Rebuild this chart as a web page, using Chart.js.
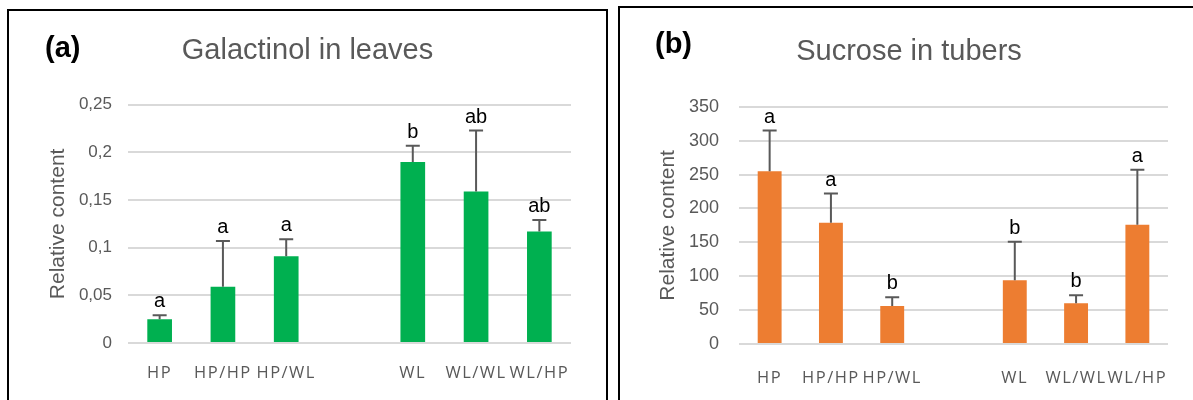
<!DOCTYPE html>
<html>
<head>
<meta charset="utf-8">
<script src="https://cdn.jsdelivr.net/npm/chart.js@4.4.1/dist/chart.umd.min.js"></script>
<style>
  html, body { margin: 0; padding: 0; background: #fff; overflow: hidden; }
  body { width: 1193px; height: 400px; position: relative; }
  .panel { position: absolute; box-sizing: border-box; border: 2px solid #000; height: 430px; }
  .panel canvas { position: absolute; left: 0; top: 0; }
  .tag { position: absolute; font: bold 29px "Liberation Sans", Arial, sans-serif; line-height: 1; color: #000; }
  #panelA { left: 7px; top: 9px; width: 601px; }
  #panelB { left: 618px; top: 6px; width: 584px; }
  #tagA { left: 36px; top: 22px; }
  #tagB { left: 35px; top: 21px; }
</style>
</head>
<body>
<div class="panel" id="panelA">
  <canvas id="galactinol" width="597" height="389"></canvas>
  <div class="tag" id="tagA">(a)</div>
</div>
<div class="panel" id="panelB">
  <canvas id="sucrose" width="578" height="392"></canvas>
  <div class="tag" id="tagB">(b)</div>
</div>
<script>
const TEXT = "#595959";
const GRID = "#d9d9d9";

// empty slot between the two graft groups
const CATEGORIES = ["HP", "HP/HP", "HP/WL", "", "WL", "WL/WL", "WL/HP"];

const GALACTINOL = [0.025, 0.059, 0.091, null, 0.19, 0.159, 0.117];
const GALACTINOL_SD = [0.004, 0.048, 0.018, null, 0.017, 0.064, 0.012];
const GALACTINOL_GROUPS = ["a", "a", "a", "", "b", "ab", "ab"];
const GALACTINOL_TICKS = { max: 0.25, step: 0.05 };

const SUCROSE = [255, 179, 56, null, 94, 60, 176];
const SUCROSE_SD = [60, 43, 13, null, 57, 12, 81];
const SUCROSE_GROUPS = ["a", "a", "b", "", "b", "b", "a"];
const SUCROSE_TICKS = { max: 350, step: 50 };

const SANS = '"Liberation Sans", Arial, sans-serif';

// upper error bar + significance letter over each bar
function errorBars(sd, groups) {
  return {
    id: "errorBars",
    afterDatasetsDraw(chart) {
      const { ctx } = chart;
      const y = chart.scales.y;
      const values = chart.data.datasets[0].data;
      const meta = chart.getDatasetMeta(0);
      ctx.save();
      ctx.strokeStyle = TEXT;
      ctx.lineWidth = 2;
      ctx.fillStyle = "#000";
      ctx.font = "20px " + SANS;
      ctx.textAlign = "center";
      ctx.textBaseline = "alphabetic";
      meta.data.forEach((bar, i) => {
        if (values[i] == null) return;
        const top = y.getPixelForValue(values[i]);
        const end = y.getPixelForValue(values[i] + sd[i]);
        ctx.beginPath();
        ctx.moveTo(bar.x, top);
        ctx.lineTo(bar.x, end);
        ctx.moveTo(bar.x - 7, end);
        ctx.lineTo(bar.x + 7, end);
        ctx.stroke();
        ctx.fillText(groups[i], bar.x, end - 8);
      });
      ctx.restore();
      // category labels come on the next layer, spaced out a bit
      ctx.letterSpacing = "1.5px";
    },
    afterDraw(chart) {
      chart.ctx.letterSpacing = "0px";
    },
  };
}

function drawPanel(id, p) {
  const canvas = document.getElementById(id);
  return new Chart(canvas, {
    type: "bar",
    data: {
      labels: CATEGORIES,
      datasets: [{
        data: p.values,
        backgroundColor: p.color,
        borderWidth: 0,
        categoryPercentage: 1,
        barPercentage: 0.39,
      }],
    },
    options: {
      responsive: false,
      animation: false,
      events: [],
      layout: { padding: 0 },
      plugins: {
        legend: { display: false },
        tooltip: { enabled: false },
        title: {
          display: true,
          text: p.title,
          color: TEXT,
          font: { family: SANS, size: 29, weight: "normal" },
          padding: p.titlePad,
        },
      },
      scales: {
        x: {
          grid: { display: false, drawTicks: false },
          border: { display: false },
          ticks: {
            z: 1,
            color: TEXT,
            font: { family: '"Open Sans", sans-serif', size: 16.5 },
            padding: p.xPad,
            maxRotation: 0,
            autoSkip: false,
          },
          afterFit: (s) => { s.height = p.xHeight; },
        },
        y: {
          min: 0,
          max: p.ticks.max,
          grid: { color: GRID, lineWidth: 2, drawTicks: false },
          border: { display: false },
          ticks: {
            stepSize: p.ticks.step,
            color: TEXT,
            font: { family: SANS, size: p.tickSize },
            padding: p.yPad,
            callback: (v) => String(+v.toFixed(2)).replace(".", ","),
          },
          title: {
            display: true,
            text: "Relative content",
            color: TEXT,
            font: { family: SANS, size: 21 },
            padding: { top: p.yTitlePad, bottom: 0 },
          },
          afterFit: (s) => { s.width = 119; },
        },
        // blank margin on the right so the title stays centred on the canvas
        gap: {
          type: "linear",
          position: "right",
          grid: { display: false, drawTicks: false },
          border: { display: false },
          ticks: { display: false },
          afterFit: (s) => { s.width = p.padRight; },
        },
      },
    },
    plugins: [errorBars(p.sd, p.groups)],
  });
}

drawPanel("galactinol", {
  title: "Galactinol in leaves",
  values: GALACTINOL,
  sd: GALACTINOL_SD,
  groups: GALACTINOL_GROUPS,
  ticks: GALACTINOL_TICKS,
  color: "#00b050",
  padRight: 35,
  titlePad: { top: 23, bottom: 36 },
  xHeight: 57,
  xPad: 20,
  yPad: 16,
  tickSize: 17,
  yTitlePad: 37,
});

drawPanel("sucrose", {
  title: "Sucrose in tubers",
  values: SUCROSE,
  sd: SUCROSE_SD,
  groups: SUCROSE_GROUPS,
  ticks: SUCROSE_TICKS,
  color: "#ed7d31",
  padRight: 30,
  titlePad: { top: 27, bottom: 37 },
  xHeight: 56,
  xPad: 24,
  yPad: 20,
  tickSize: 18,
  yTitlePad: 36,
});
</script>
</body>
</html>
